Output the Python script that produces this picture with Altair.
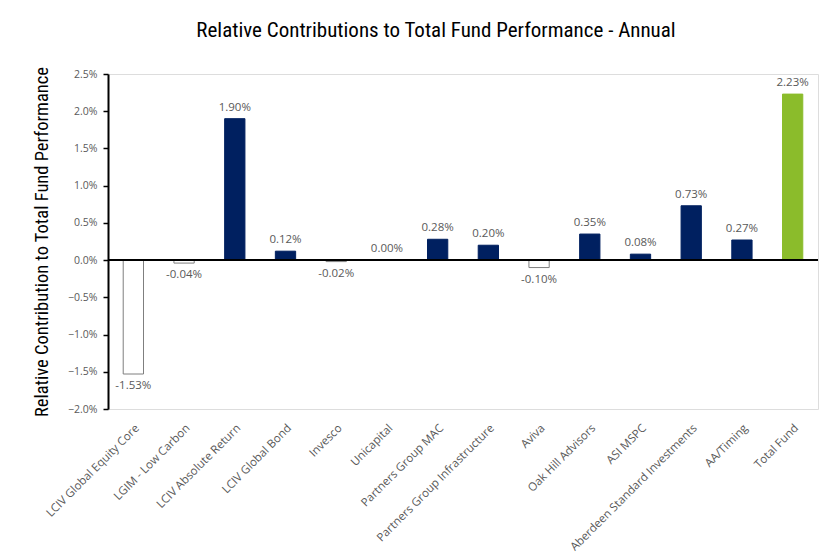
import altair as alt
import pandas as pd

categories = [
    "LCIV Global Equity Core", "LGIM - Low Carbon", "LCIV Absolute Return",
    "LCIV Global Bond", "Invesco", "Unicapital", "Partners Group MAC",
    "Partners Group Infrastructure", "Aviva", "Oak Hill Advisors", "ASI MSPC",
    "Aberdeen Standard Investments", "AA/Timing", "Total Fund",
]
values = [-1.53, -0.04, 1.90, 0.12, -0.02, 0.00, 0.28, 0.20, -0.10, 0.35, 0.08, 0.73, 0.27, 2.23]
tick_values = [-2.0, -1.5, -1.0, -0.5, 0.0, 0.5, 1.0, 1.5, 2.0, 2.5]
groups = ["neg" if v < 0 else "pos" for v in values]
groups[-1] = "total"

df = pd.DataFrame({
    "cat": categories,
    "val": [v / 100 for v in values],
    "grp": groups,
    "label": [f"{v:.2f}%" for v in values],
})

GREY = "#595959"
FONT = "Open Sans"
TFONT = "Liberation Sans Narrow, Roboto Condensed, Roboto"

x = alt.X("cat:N", sort=categories, title=None,
          scale=alt.Scale(paddingInner=0.6, paddingOuter=0.3),
          axis=alt.Axis(labelAngle=-45, labelAlign="right", labelBaseline="top",
                        labelPadding=13, domain=False, ticks=False,
                        labelColor=GREY, labelFont=FONT, labelFontSize=11.5,
                        labelLimit=300))
y = alt.Y("val:Q", title="Relative Contribution to Total Fund Performance",
          scale=alt.Scale(domain=[-0.02, 0.025], nice=False),
          axis=alt.Axis(format=".1%", values=[round(t / 100, 4) for t in tick_values],
                        tickCount=10, labelOverlap=False, labelFlush=False,
                        grid=False, domainColor="black", domainWidth=2,
                        tickColor="black", tickWidth=1.5, tickSize=5,
                        labelColor=GREY, labelFont=FONT, labelFontSize=10.5, labelPadding=6,
                        titleFont=TFONT, titleFontSize=18.5, titleFontWeight="normal",
                        titleColor="black", titlePadding=16))

base = alt.Chart(df)

bars = base.mark_bar(strokeWidth=1).encode(
    x=x, y=y,
    color=alt.Color("grp:N", scale=alt.Scale(domain=["neg", "pos", "total"],
                                             range=["#ffffff", "#002060", "#8BBC2B"]), legend=None),
    stroke=alt.Color("grp:N", scale=alt.Scale(domain=["neg", "pos", "total"],
                                              range=["#7f7f7f", "#002060", "#8BBC2B"]), legend=None),
)

zero = base.mark_rule(color="black", strokeWidth=2).encode(y=alt.datum(0))

pos_labels = base.transform_filter("datum.val >= 0").mark_text(
    baseline="bottom", dy=-6, color=GREY, font=FONT, fontSize=11.5
).encode(x=x, y=y, text="label:N")

neg_labels = base.transform_filter("datum.val < 0").mark_text(
    baseline="top", dy=6, color=GREY, font=FONT, fontSize=11.5
).encode(x=x, y=y, text="label:N")

chart = alt.layer(bars, pos_labels, neg_labels, zero).properties(
    width=710, height=335,
    title=alt.Title("Relative Contributions to Total Fund Performance - Annual",
                    font=TFONT, fontSize=21, fontWeight="normal", color="black",
                    anchor="middle", dx=-27, offset=25),
    autosize=alt.AutoSizeParams(type="none"),
    padding={"left": 100, "top": 66, "right": 11, "bottom": 150},
).configure_view(stroke=None).configure(background="white")

chart.save("out.html", embed_options={"renderer": "svg", "actions": False})
